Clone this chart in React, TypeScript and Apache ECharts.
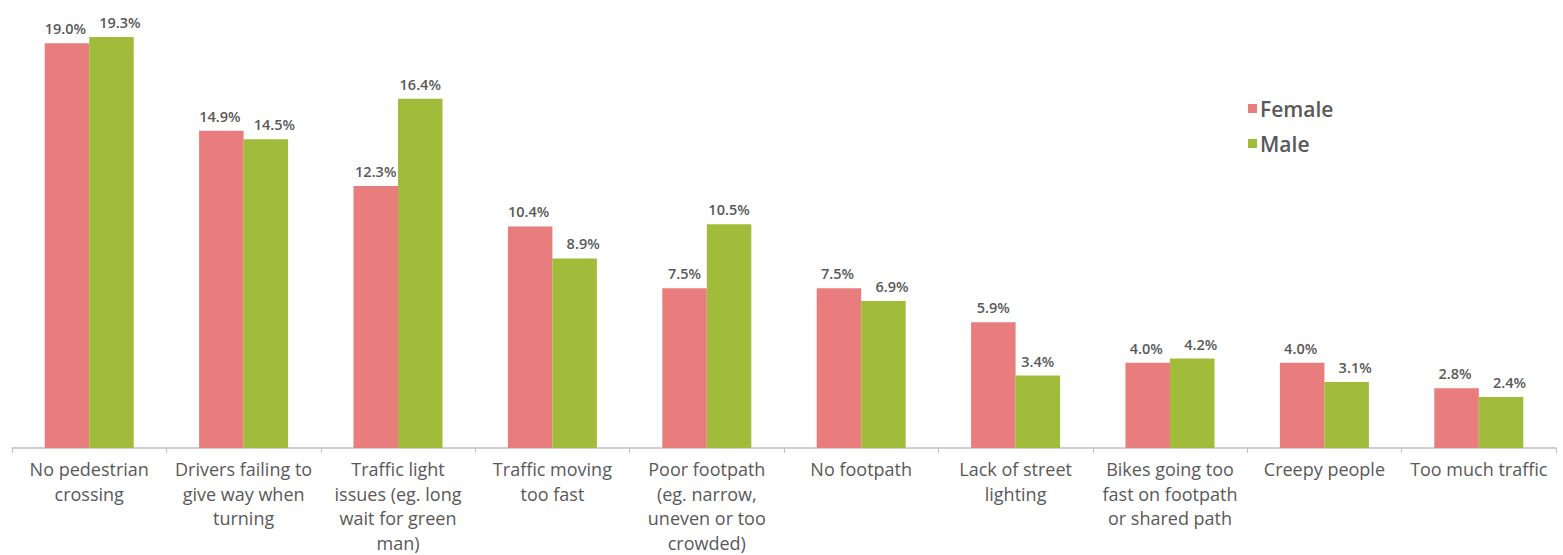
import React, { useEffect, useRef } from "react";
import * as echarts from "echarts";

const categories = [
  "No pedestrian\ncrossing",
  "Drivers failing to\ngive way when\nturning",
  "Traffic light\nissues (eg. long\nwait for green\nman)",
  "Traffic moving\ntoo fast",
  "Poor footpath\n(eg. narrow,\nuneven or too\ncrowded)",
  "No footpath",
  "Lack of street\nlighting",
  "Bikes going too\nfast on footpath\nor shared path",
  "Creepy people",
  "Too much traffic",
];
const female = [19.0, 14.9, 12.3, 10.4, 7.5, 7.5, 5.9, 4.0, 4.0, 2.8];
const male = [19.3, 14.5, 16.4, 8.9, 10.5, 6.9, 3.4, 4.2, 3.1, 2.4];

const FONT = "'Open Sans', sans-serif";
const TEXT = "#595959";

// labels that would collide get nudged apart (as in the source)
const close = (i: number) => Math.abs(male[i] - female[i]) < 2;

export default function App() {
  const ref = useRef<HTMLDivElement>(null);
  useEffect(() => {
    if (!ref.current) return;
    const chart = echarts.init(ref.current, null, { renderer: "svg" });
    const label = {
      show: true,
      position: "top",
      distance: 7,
      formatter: (p: any) => p.value.toFixed(1) + "%",
      color: TEXT,
      fontFamily: FONT,
      fontWeight: 600,
      fontSize: 14.5,
    };
    chart.setOption({
      animation: false,
      backgroundColor: "#ffffff",
      textStyle: { fontFamily: FONT },
      grid: { left: 12, right: 7, top: 22, bottom: 106, containLabel: false },
      legend: {
        orient: "vertical",
        left: 1243,
        top: 93,
        itemWidth: 9,
        itemHeight: 9,
        itemGap: 14,
        icon: "rect",
        textStyle: { color: TEXT, fontSize: 21, fontFamily: FONT, fontWeight: 600, lineHeight: 21, padding: [0, 0, 0, -2] },
        data: ["Female", "Male"],
      },
      xAxis: {
        type: "category",
        data: categories,
        axisLine: { lineStyle: { color: "#bfbfbf", width: 1.5 } },
        axisTick: { show: true, length: 5, lineStyle: { color: "#bfbfbf" } },
        axisLabel: {
          interval: 0,
          color: TEXT,
          fontSize: 18,
          fontWeight: 500,
          lineHeight: 24.5,
          margin: 9,
          fontFamily: FONT,
        },
      },
      yAxis: {
        type: "value",
        min: 0,
        max: 20,
        show: false,
        splitLine: { show: false },
      },
      series: [
        {
          name: "Female",
          type: "bar",
          data: female.map((v, i) => ({ value: v, label: { offset: [close(i) ? -1.5 : 0, 0] } })),
          barWidth: 44.5,
          barGap: "0%",
          itemStyle: { color: "#E97C7C" },
          label,
        },
        {
          name: "Male",
          type: "bar",
          data: male.map((v, i) => ({ value: v, label: { offset: [close(i) ? 8.5 : 0, 0] } })),
          barWidth: 44.5,
          itemStyle: { color: "#A0BC3A" },
          label,
        },
      ],
    });
    return () => chart.dispose();
  }, []);
  return (
    <div
      ref={ref}
      style={{ position: "fixed", left: 0, top: 0, width: 1563, height: 555 }}
    />
  );
}
